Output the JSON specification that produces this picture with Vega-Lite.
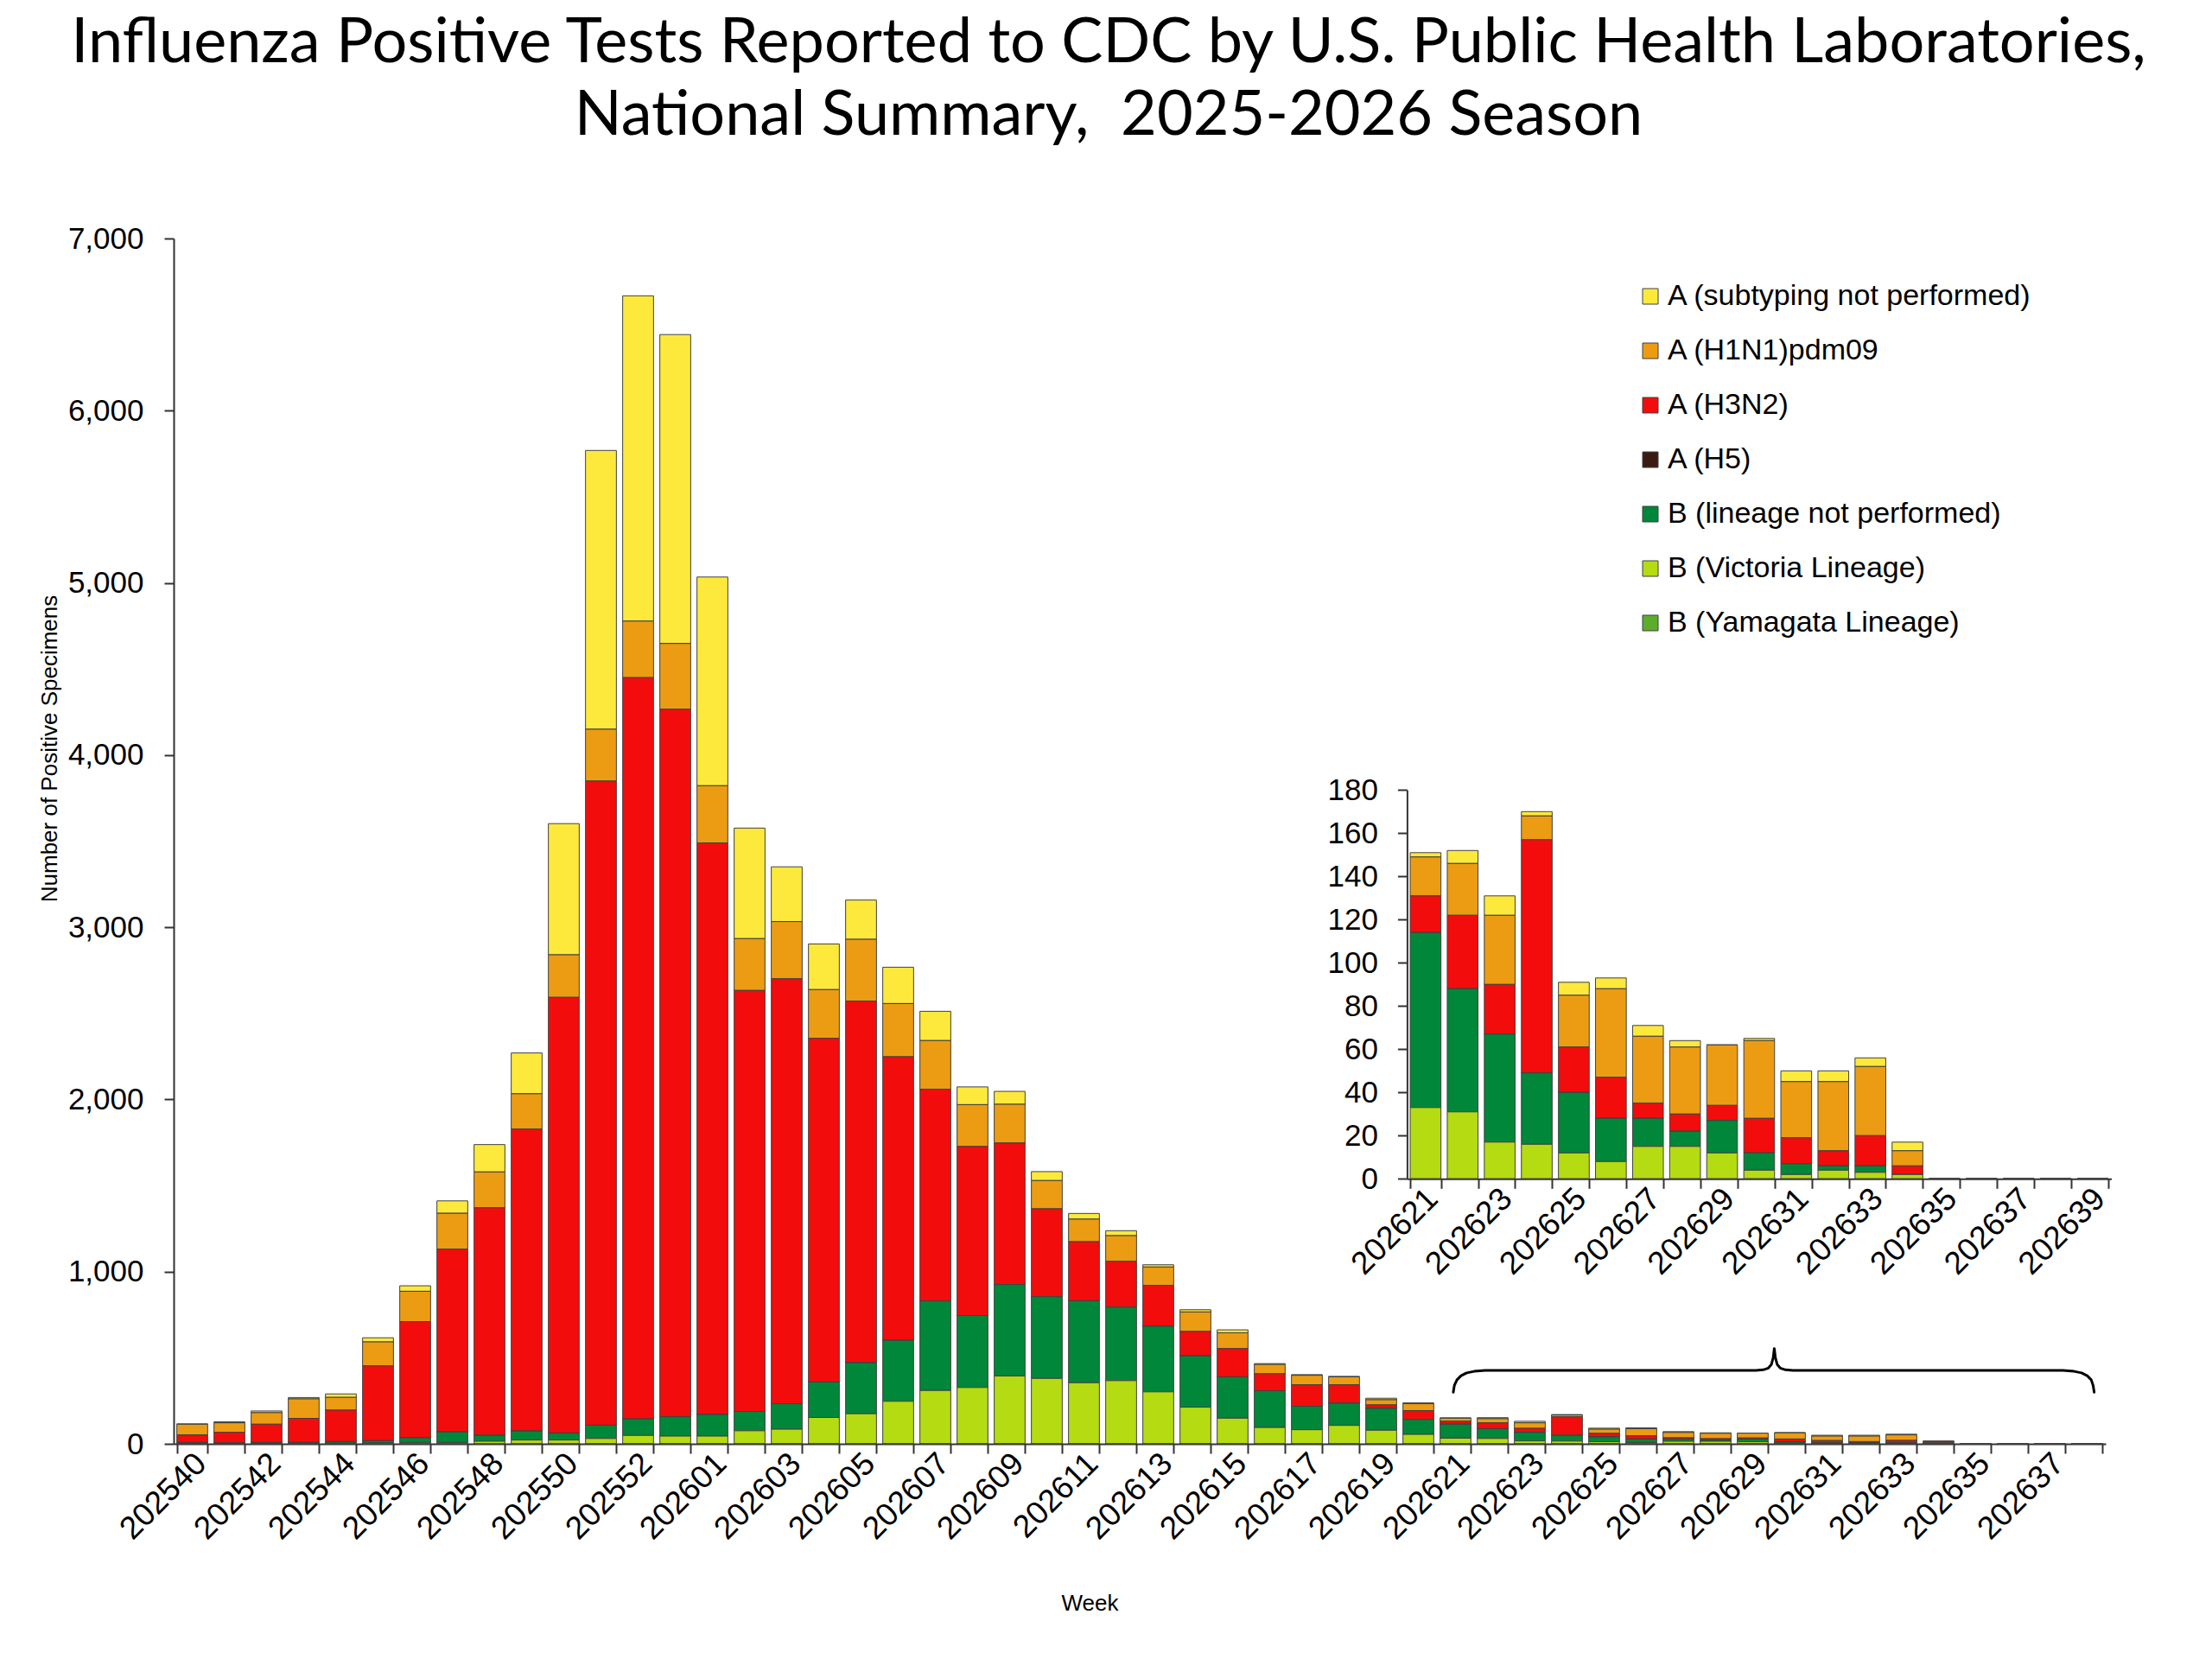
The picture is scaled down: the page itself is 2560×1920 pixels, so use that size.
{
  "$schema": "https://vega.github.io/schema/vega-lite/v6.json",
  "width": 2236,
  "height": 1395,
  "autosize": {"type": "none"},
  "padding": {"left": 201, "top": 276, "right": 123, "bottom": 249},
  "background": "white",
  "title": {
    "text": ["Influenza Positive Tests Reported to CDC by U.S. Public Health Laboratories,", "National Summary,\u00a0 2025-2026 Season"],
    "font": "Lato",
    "fontSize": 72,
    "fontWeight": "normal",
    "lineHeight": 84,
    "anchor": "middle",
    "frame": "group",
    "dx": -36,
    "offset": 88,
    "color": "black"
  },
  "datasets": {
    "flu": [
      {"week": "202540", "aun": 2, "h1n1": 62, "h3n2": 44, "h5": 0, "bnp": 5, "vic": 3, "yam": 0},
      {"week": "202541", "aun": 6, "h1n1": 55, "h3n2": 62, "h5": 0, "bnp": 3, "vic": 2, "yam": 0},
      {"week": "202542", "aun": 10, "h1n1": 67, "h3n2": 106, "h5": 0, "bnp": 5, "vic": 3, "yam": 0},
      {"week": "202543", "aun": 8, "h1n1": 113, "h3n2": 139, "h5": 2, "bnp": 4, "vic": 3, "yam": 0},
      {"week": "202544", "aun": 20, "h1n1": 74, "h3n2": 183, "h5": 0, "bnp": 9, "vic": 4, "yam": 0},
      {"week": "202545", "aun": 24, "h1n1": 139, "h3n2": 435, "h5": 0, "bnp": 13, "vic": 5, "yam": 0},
      {"week": "202546", "aun": 32, "h1n1": 176, "h3n2": 675, "h5": 0, "bnp": 27, "vic": 8, "yam": 0},
      {"week": "202547", "aun": 72, "h1n1": 208, "h3n2": 1062, "h5": 0, "bnp": 61, "vic": 8, "yam": 0},
      {"week": "202548", "aun": 159, "h1n1": 208, "h3n2": 1322, "h5": 0, "bnp": 34, "vic": 15, "yam": 0},
      {"week": "202549", "aun": 237, "h1n1": 205, "h3n2": 1754, "h5": 0, "bnp": 52, "vic": 22, "yam": 0},
      {"week": "202550", "aun": 762, "h1n1": 247, "h3n2": 2530, "h5": 0, "bnp": 41, "vic": 22, "yam": 0},
      {"week": "202551", "aun": 1619, "h1n1": 301, "h3n2": 3741, "h5": 0, "bnp": 77, "vic": 31, "yam": 0},
      {"week": "202552", "aun": 1889, "h1n1": 328, "h3n2": 4306, "h5": 0, "bnp": 95, "vic": 49, "yam": 0},
      {"week": "202553", "aun": 1794, "h1n1": 382, "h3n2": 4109, "h5": 0, "bnp": 112, "vic": 45, "yam": 0},
      {"week": "202601", "aun": 1212, "h1n1": 332, "h3n2": 3320, "h5": 0, "bnp": 125, "vic": 45, "yam": 0},
      {"week": "202602", "aun": 642, "h1n1": 301, "h3n2": 2445, "h5": 0, "bnp": 112, "vic": 76, "yam": 0},
      {"week": "202603", "aun": 318, "h1n1": 332, "h3n2": 2468, "h5": 0, "bnp": 148, "vic": 85, "yam": 0},
      {"week": "202604", "aun": 265, "h1n1": 283, "h3n2": 1996, "h5": 0, "bnp": 206, "vic": 153, "yam": 0},
      {"week": "202605", "aun": 228, "h1n1": 359, "h3n2": 2100, "h5": 0, "bnp": 296, "vic": 175, "yam": 0},
      {"week": "202606", "aun": 211, "h1n1": 309, "h3n2": 1647, "h5": 0, "bnp": 354, "vic": 247, "yam": 0},
      {"week": "202607", "aun": 170, "h1n1": 283, "h3n2": 1229, "h5": 0, "bnp": 520, "vic": 310, "yam": 0},
      {"week": "202608", "aun": 103, "h1n1": 243, "h3n2": 982, "h5": 0, "bnp": 418, "vic": 327, "yam": 0},
      {"week": "202609", "aun": 75, "h1n1": 225, "h3n2": 822, "h5": 0, "bnp": 531, "vic": 394, "yam": 0},
      {"week": "202610", "aun": 52, "h1n1": 164, "h3n2": 511, "h5": 0, "bnp": 474, "vic": 380, "yam": 0},
      {"week": "202611", "aun": 33, "h1n1": 131, "h3n2": 343, "h5": 0, "bnp": 476, "vic": 355, "yam": 0},
      {"week": "202612", "aun": 29, "h1n1": 149, "h3n2": 266, "h5": 0, "bnp": 427, "vic": 367, "yam": 0},
      {"week": "202613", "aun": 13, "h1n1": 107, "h3n2": 237, "h5": 0, "bnp": 381, "vic": 302, "yam": 0},
      {"week": "202614", "aun": 13, "h1n1": 113, "h3n2": 142, "h5": 0, "bnp": 298, "vic": 213, "yam": 0},
      {"week": "202615", "aun": 17, "h1n1": 92, "h3n2": 164, "h5": 0, "bnp": 240, "vic": 149, "yam": 0},
      {"week": "202616", "aun": 5, "h1n1": 54, "h3n2": 99, "h5": 0, "bnp": 213, "vic": 95, "yam": 0},
      {"week": "202617", "aun": 4, "h1n1": 55, "h3n2": 125, "h5": 0, "bnp": 136, "vic": 82, "yam": 0},
      {"week": "202618", "aun": 3, "h1n1": 46, "h3n2": 107, "h5": 0, "bnp": 129, "vic": 107, "yam": 0},
      {"week": "202619", "aun": 9, "h1n1": 30, "h3n2": 20, "h5": 0, "bnp": 127, "vic": 79, "yam": 0},
      {"week": "202620", "aun": 5, "h1n1": 40, "h3n2": 51, "h5": 0, "bnp": 87, "vic": 55, "yam": 0},
      {"week": "202621", "aun": 2, "h1n1": 18, "h3n2": 17, "h5": 0, "bnp": 81, "vic": 33, "yam": 0},
      {"week": "202622", "aun": 6, "h1n1": 24, "h3n2": 34, "h5": 0, "bnp": 57, "vic": 31, "yam": 0},
      {"week": "202623", "aun": 9, "h1n1": 32, "h3n2": 23, "h5": 0, "bnp": 50, "vic": 17, "yam": 0},
      {"week": "202624", "aun": 2, "h1n1": 11, "h3n2": 108, "h5": 0, "bnp": 33, "vic": 16, "yam": 0},
      {"week": "202625", "aun": 6, "h1n1": 24, "h3n2": 21, "h5": 0, "bnp": 28, "vic": 12, "yam": 0},
      {"week": "202626", "aun": 5, "h1n1": 41, "h3n2": 19, "h5": 0, "bnp": 20, "vic": 8, "yam": 0},
      {"week": "202627", "aun": 5, "h1n1": 31, "h3n2": 7, "h5": 0, "bnp": 13, "vic": 15, "yam": 0},
      {"week": "202628", "aun": 3, "h1n1": 31, "h3n2": 8, "h5": 0, "bnp": 7, "vic": 15, "yam": 0},
      {"week": "202629", "aun": 0, "h1n1": 28, "h3n2": 7, "h5": 0, "bnp": 15, "vic": 12, "yam": 0},
      {"week": "202630", "aun": 1, "h1n1": 36, "h3n2": 16, "h5": 0, "bnp": 8, "vic": 4, "yam": 0},
      {"week": "202631", "aun": 5, "h1n1": 26, "h3n2": 12, "h5": 0, "bnp": 5, "vic": 2, "yam": 0},
      {"week": "202632", "aun": 5, "h1n1": 32, "h3n2": 7, "h5": 0, "bnp": 2, "vic": 4, "yam": 0},
      {"week": "202633", "aun": 4, "h1n1": 32, "h3n2": 14, "h5": 0, "bnp": 3, "vic": 3, "yam": 0},
      {"week": "202634", "aun": 4, "h1n1": 7, "h3n2": 4, "h5": 0, "bnp": 0, "vic": 2, "yam": 0},
      {"week": "202635", "aun": 0, "h1n1": 0, "h3n2": 0, "h5": 0, "bnp": 0, "vic": 0, "yam": 0},
      {"week": "202636", "aun": 0, "h1n1": 0, "h3n2": 0, "h5": 0, "bnp": 0, "vic": 0, "yam": 0},
      {"week": "202637", "aun": 0, "h1n1": 0, "h3n2": 0, "h5": 0, "bnp": 0, "vic": 0, "yam": 0},
      {"week": "202638", "aun": 0, "h1n1": 0, "h3n2": 0, "h5": 0, "bnp": 0, "vic": 0, "yam": 0},
      {"week": "202639", "aun": 0, "h1n1": 0, "h3n2": 0, "h5": 0, "bnp": 0, "vic": 0, "yam": 0}
    ],
    "brace": [
      {"u": 34.44, "v": 300}, {"u": 34.47, "v": 340}, {"u": 34.54, "v": 372}, {"u": 34.65, "v": 396},
      {"u": 34.8, "v": 412}, {"u": 35.0, "v": 421}, {"u": 35.3, "v": 426}, {"u": 42.58, "v": 426},
      {"u": 42.78, "v": 430}, {"u": 42.92, "v": 440}, {"u": 43.0, "v": 460}, {"u": 43.05, "v": 500},
      {"u": 43.08, "v": 553}, {"u": 43.11, "v": 500}, {"u": 43.16, "v": 460}, {"u": 43.24, "v": 440},
      {"u": 43.38, "v": 430}, {"u": 43.58, "v": 426}, {"u": 50.85, "v": 426}, {"u": 51.15, "v": 421},
      {"u": 51.35, "v": 412}, {"u": 51.5, "v": 396}, {"u": 51.61, "v": 372}, {"u": 51.66, "v": 340},
      {"u": 51.69, "v": 300}
    ]
  },
  "resolve": {
    "scale": {"x": "independent", "y": "independent"},
    "axis": {"x": "independent", "y": "independent"}
  },
  "layer": [
    {
      "data": {"name": "flu"},
      "transform": [
        {"filter": "toNumber(datum.week) <= 202638"},
        {"fold": ["aun", "h1n1", "h3n2", "h5", "bnp", "vic", "yam"], "as": ["series", "count"]},
        {"calculate": "indexof(['yam','vic','bnp','h5','h3n2','h1n1','aun'], datum.series)", "as": "k"}
      ],
      "mark": {"type": "bar", "stroke": "#404040", "strokeWidth": 1},
      "encoding": {
        "x": {
          "field": "week",
          "type": "ordinal",
          "scale": {"paddingInner": 0.17, "paddingOuter": 0.085},
          "axis": {
            "orient": "bottom",
            "title": "Week",
            "titleX": 1060,
            "tickBand": "extent",
            "labelAngle": -45,
            "labelAlign": "right",
            "labelBaseline": "middle",
            "labelFontSize": 37,
            "labelPadding": 6,
            "labelOffset": 10,
            "labelOverlap": false,
            "labelExpr": "(toNumber(datum.value) < 202600 ? toNumber(datum.value) % 2 == 0 : toNumber(datum.value) % 2 == 1) ? datum.value : ''",
            "tickSize": 11,
            "titleFontSize": 26,
            "titleFontWeight": "normal",
            "titlePadding": 54
          }
        },
        "y": {
          "field": "count",
          "type": "quantitative",
          "stack": "zero",
          "scale": {"domain": [0, 7000], "nice": false},
          "axis": {
            "orient": "left",
            "title": "Number of Positive Specimens",
            "titleY": 590,
            "values": [0, 1000, 2000, 3000, 4000, 5000, 6000, 7000],
            "labelExpr": "format(datum.value, ',.0f')",
            "grid": false,
            "labelFontSize": 35,
            "labelPadding": 24,
            "tickSize": 11,
            "titleFontSize": 26,
            "titleFontWeight": "normal",
            "titlePadding": 8
          }
        },
        "color": {
          "field": "series",
          "type": "nominal",
          "scale": {
            "domain": ["aun", "h1n1", "h3n2", "h5", "bnp", "vic", "yam"],
            "range": ["#FDE93C", "#EC9C13", "#F30C0C", "#3A1B12", "#00873A", "#B5DB13", "#5CAD2B"]
          },
          "legend": {
            "orient": "none",
            "legendX": 1692,
            "legendY": 50,
            "title": null,
            "padding": 0,
            "symbolType": "square",
            "symbolSize": 324,
            "symbolStrokeColor": "#808080",
            "symbolStrokeWidth": 1,
            "labelFontSize": 34,
            "labelOffset": 3,
            "labelLimit": 1000,
            "rowPadding": 29,
            "labelExpr": "datum.label == 'aun' ? 'A (subtyping not performed)' : datum.label == 'h1n1' ? 'A (H1N1)pdm09' : datum.label == 'h3n2' ? 'A (H3N2)' : datum.label == 'h5' ? 'A (H5)' : datum.label == 'bnp' ? 'B (lineage not performed)' : datum.label == 'vic' ? 'B (Victoria Lineage)' : 'B (Yamagata Lineage)'"
          }
        },
        "order": {"field": "k", "type": "quantitative"}
      }
    },
    {
      "data": {"name": "brace"},
      "mark": {"type": "line", "color": "black", "strokeWidth": 3, "strokeJoin": "round", "strokeCap": "round"},
      "encoding": {
        "x": {"field": "u", "type": "quantitative", "scale": {"domain": [0, 52], "nice": false, "zero": false}, "axis": null},
        "y": {"field": "v", "type": "quantitative", "scale": {"domain": [0, 7000], "nice": false}, "axis": null}
      }
    },
    {
      "data": {"name": "flu"},
      "transform": [
        {"filter": "toNumber(datum.week) >= 202621"},
        {"fold": ["aun", "h1n1", "h3n2", "h5", "bnp", "vic", "yam"], "as": ["series", "count"]},
        {"calculate": "indexof(['yam','vic','bnp','h5','h3n2','h1n1','aun'], datum.series)", "as": "k"}
      ],
      "mark": {"type": "bar", "stroke": "#404040", "strokeWidth": 1},
      "encoding": {
        "x": {
          "field": "week",
          "type": "ordinal",
          "scale": {"range": [1427.4, 2242.5], "paddingInner": 0.17, "paddingOuter": 0.085},
          "axis": {
            "orient": "bottom",
            "offset": -306.7,
            "title": null,
            "tickBand": "extent",
            "labelAngle": -45,
            "labelAlign": "right",
            "labelBaseline": "middle",
            "labelFontSize": 37,
            "labelPadding": 6,
            "labelOffset": 8,
            "labelOverlap": false,
            "labelExpr": "toNumber(datum.value) % 2 == 1 ? datum.value : ''",
            "tickSize": 11
          }
        },
        "y": {
          "field": "count",
          "type": "quantitative",
          "stack": "zero",
          "scale": {"domain": [0, 180], "nice": false, "range": [1088.3, 638.3]},
          "axis": {
            "orient": "left",
            "offset": -1427.4,
            "title": null,
            "values": [0, 20, 40, 60, 80, 100, 120, 140, 160, 180],
            "grid": false,
            "labelFontSize": 35,
            "labelPadding": 23,
            "tickSize": 11
          }
        },
        "color": {"field": "series", "type": "nominal"},
        "order": {"field": "k", "type": "quantitative"}
      }
    }
  ],
  "config": {
    "view": {"stroke": null},
    "font": "Liberation Sans",
    "axis": {
      "domainColor": "#333333",
      "tickColor": "#333333",
      "domainWidth": 2,
      "tickWidth": 2,
      "labelColor": "black",
      "titleColor": "black",
      "labelFont": "Liberation Sans",
      "titleFont": "Liberation Sans"
    },
    "legend": {"labelColor": "black", "labelFont": "Liberation Sans"}
  }
}
